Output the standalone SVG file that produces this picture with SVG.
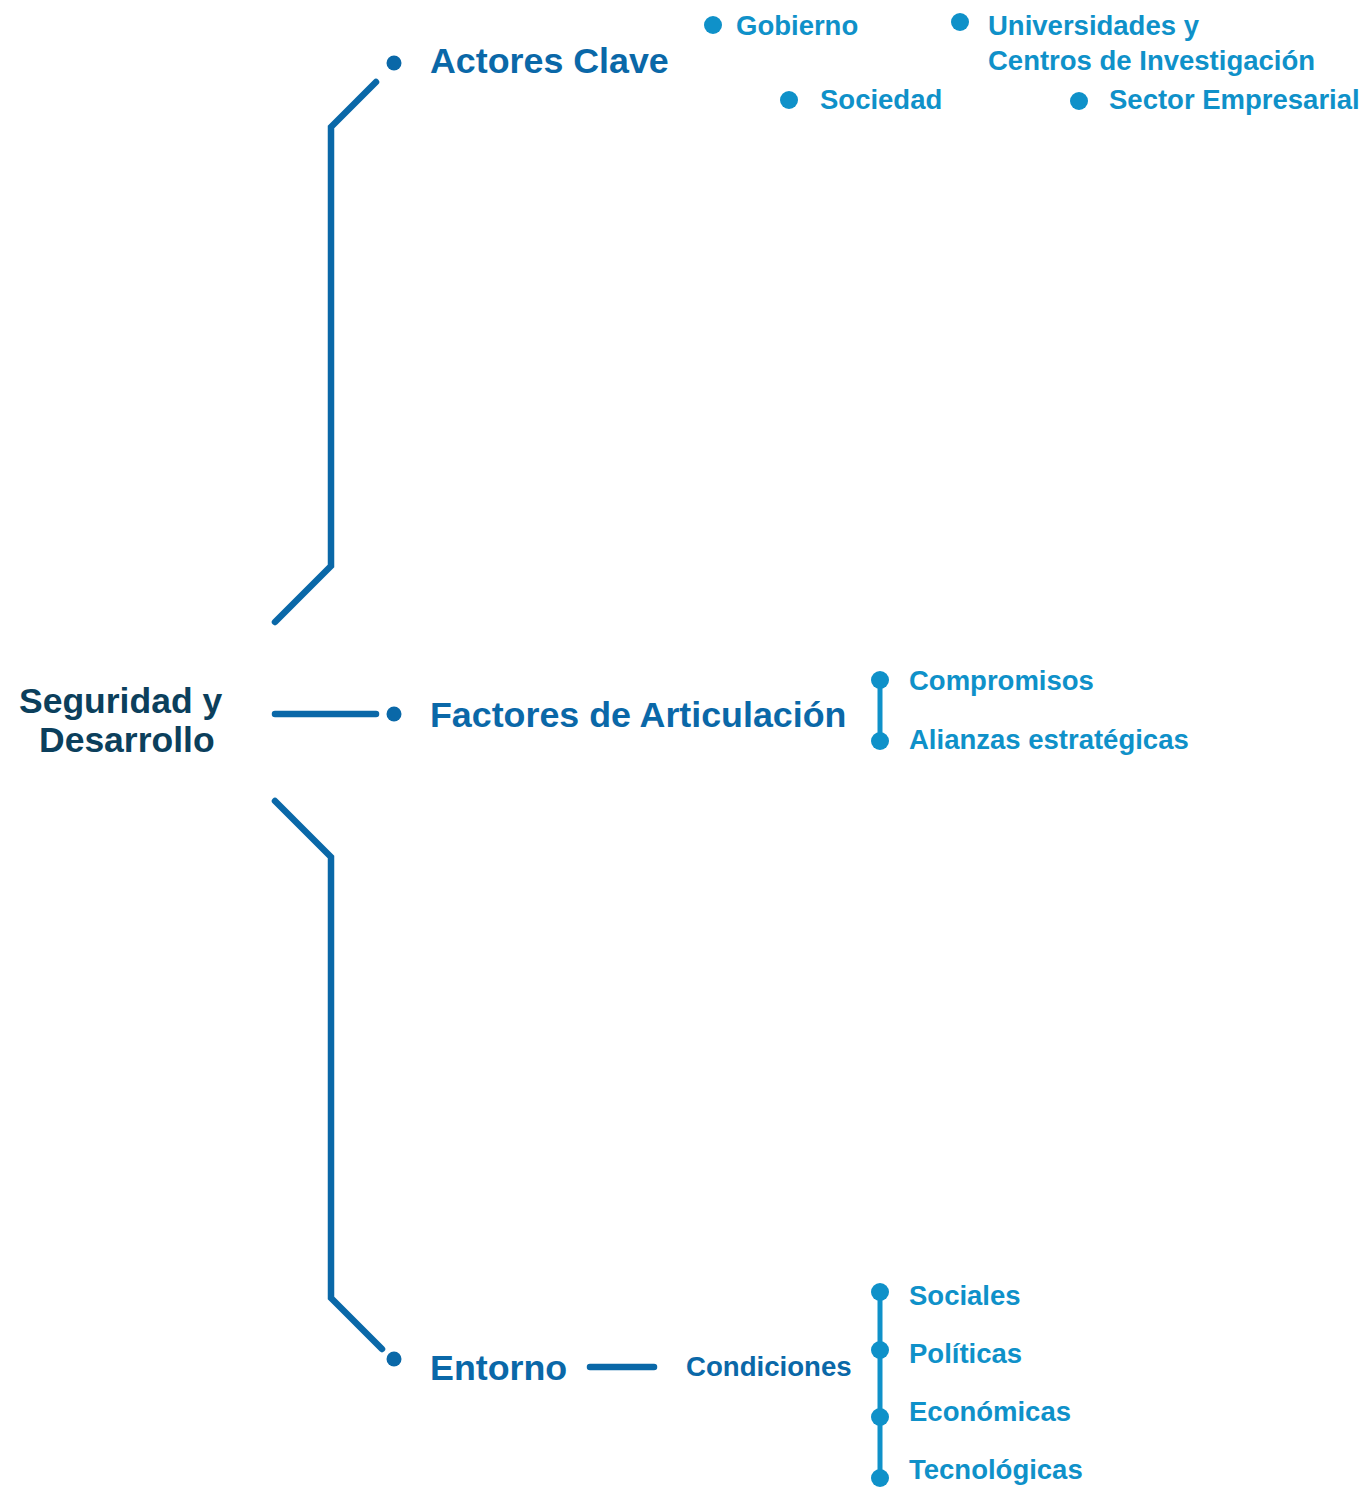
<svg xmlns="http://www.w3.org/2000/svg" width="1365" height="1487" viewBox="0 0 1365 1487">
<style>
text{font-family:"Liberation Sans",Arial,sans-serif;font-weight:bold}
.root{fill:#0B3F5C;font-size:35.5px}
.main{fill:#0A68A8;font-size:35.8px}
.sub{fill:#0F91C9;font-size:27.5px}
.cond{fill:#0A68A8;font-size:27.6px}
.conn{fill:none;stroke:#0A68A8;stroke-width:6.5;stroke-linecap:round;stroke-linejoin:miter}
.lconn{fill:none;stroke:#0F91C9;stroke-width:5}
.md{fill:#0A68A8}
.ld{fill:#0F91C9}
</style>
<rect width="1365" height="1487" fill="#ffffff"/>
<g id="connectors">
<path class="conn" d="M275,622 L331,566 L331,127 L376,82"/>
<path class="conn" d="M275,714 L376,714"/>
<path class="conn" d="M275,801 L331,857 L331,1298 L382,1349"/>
<path class="conn" d="M590,1367 L654,1367"/>
<path class="lconn" d="M880,680 L880,741"/>
<path class="lconn" d="M880,1292 L880,1478"/>
</g>
<g id="root"><text class="root" x="19" y="713">Seguridad y</text><text class="root" x="39" y="752">Desarrollo</text></g>
<g id="actores"><circle class="md" cx="394" cy="63" r="7.5"/><text class="main" x="430" y="73">Actores Clave</text></g>
<g id="factores"><circle class="md" cx="394" cy="714" r="7.5"/><text class="main" x="430" y="727">Factores de Articulación</text></g>
<g id="entorno"><circle class="md" cx="394" cy="1359" r="7.5"/><text class="main" x="430" y="1380">Entorno</text></g>
<g id="gobierno"><circle class="ld" cx="713" cy="25" r="9"/><text class="sub" x="736" y="35">Gobierno</text></g>
<g id="universidades"><circle class="ld" cx="960" cy="22" r="9"/><text class="sub" x="988" y="35">Universidades y</text><text class="sub" x="988" y="70">Centros de Investigación</text></g>
<g id="sociedad"><circle class="ld" cx="789" cy="100" r="9"/><text class="sub" x="820" y="109">Sociedad</text></g>
<g id="sector"><circle class="ld" cx="1079" cy="101" r="9"/><text class="sub" x="1109" y="109">Sector Empresarial</text></g>
<g id="compromisos"><circle class="ld" cx="880" cy="680" r="9"/><text class="sub" x="909" y="690">Compromisos</text></g>
<g id="alianzas"><circle class="ld" cx="880" cy="741" r="9"/><text class="sub" x="909" y="749">Alianzas estratégicas</text></g>
<g id="condiciones"><text class="cond" x="686" y="1376">Condiciones</text></g>
<g id="sociales"><circle class="ld" cx="880" cy="1292" r="9"/><text class="sub" x="909" y="1305">Sociales</text></g>
<g id="politicas"><circle class="ld" cx="880" cy="1350" r="9"/><text class="sub" x="909" y="1363">Políticas</text></g>
<g id="economicas"><circle class="ld" cx="880" cy="1417" r="9"/><text class="sub" x="909" y="1421">Económicas</text></g>
<g id="tecnologicas"><circle class="ld" cx="880" cy="1478" r="9"/><text class="sub" x="909" y="1479">Tecnológicas</text></g>
</svg>
